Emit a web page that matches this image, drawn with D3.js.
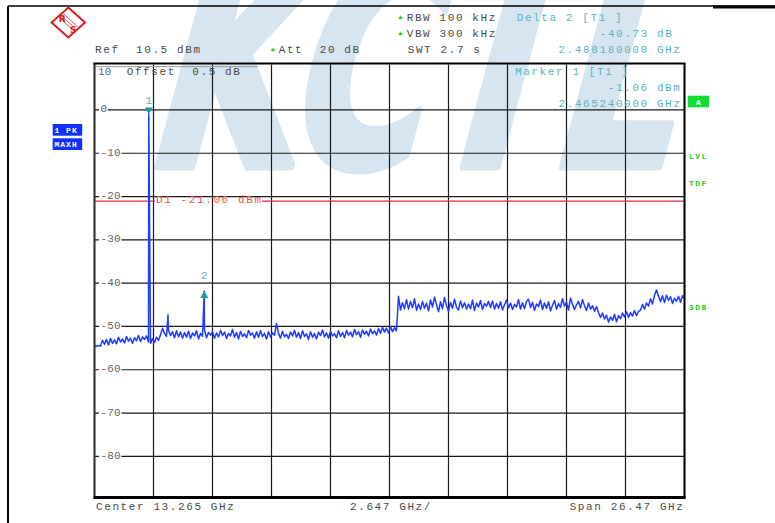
<!DOCTYPE html>
<html>
<head>
<meta charset="utf-8">
<script src="https://cdn.jsdelivr.net/npm/d3@7"></script>
<style>
html,body{margin:0;padding:0;background:#fff;}
svg{display:block;}
text{white-space:pre;}
</style>
</head>
<body>
<svg id="chart" width="775" height="523"></svg>
<script>
// ---------------- data ----------------
const freqStartGHz = 0.03;
const freqStopGHz = 26.5;
const refLevel = 10.5;
const bottomLevel = -89.5;
const yTickValues = [0, -10, -20, -30, -40, -50, -60, -70, -80];
const yTickLabels = ["0", "-10", "-20", "-30", "-40", "-50", "-60", "-70", "-80"];
const xDivisions = [0, 1, 2, 3, 4, 5, 6, 7, 8, 9, 10];
const displayLine = -21.06;

// trace levels (dBm), equally spaced from start to stop frequency
const traceLevels = [
  -54.3, -54.6, -54.4, -54.5, -53.2, -54.1, -53.0, -54.3, -52.8, -53.9,
  -53.1, -54.0, -52.5, -53.6, -52.9, -53.8, -52.3, -53.4, -52.7, -53.9,
  -52.6, -53.3, -52.1, -53.5, -52.4, -53.0, -52.2,
  -53.6, -53.9, -52.8, -53.7, -52.5, -53.2, -51.9,
  -50.4, -51.6, -52.3, -50.9, -52.1, -51.2, -52.6, -51.0, -52.4, -51.3, -52.7, -51.4,
  -52.5, -51.1, -52.8, -51.5, -52.2, -51.0, -52.9, -51.6, -52.3, -50.8, -52.6, -51.4, -52.0, -51.2, -52.7, -51.5,
  -52.4, -50.9, -52.1, -51.3, -52.8, -51.6, -52.2, -50.7, -52.5, -51.4, -52.9, -51.1, -52.3, -51.7, -52.6, -50.9, -52.0, -51.5, -52.7, -51.2,
  -52.5, -51.0, -52.3, -51.6, -52.9, -51.2, -52.4, -51.5, -52.0, -49.3, -51.6, -52.7, -51.1, -52.4, -51.8, -52.8, -51.3, -52.2, -50.9, -52.5,
  -51.4, -52.8, -51.0, -52.3, -51.7, -53.0, -51.2, -52.5, -51.6, -52.9, -51.3, -52.1, -50.8, -52.4, -51.5, -52.7, -51.1, -52.2, -51.7, -52.6,
  -51.0, -52.3, -51.4, -52.6, -50.9, -52.0, -51.3, -52.4, -50.7, -51.9, -51.2, -52.5, -50.8, -51.8, -51.1, -52.2, -50.6, -51.7, -51.0, -52.0,
  -50.5, -51.6, -50.2, -51.3, -50.4, -51.5, -50.1, -51.2, -50.3, -51.0,
  -43.0, -46.2, -44.5, -45.9, -43.8, -46.0, -44.2, -45.7, -43.6, -46.3, -44.8,
  -46.1, -44.2, -45.8, -44.6, -46.4, -43.9, -45.5, -43.2, -45.0, -46.6,
  -44.3, -45.9, -43.3, -45.2, -46.5, -44.4, -45.8, -43.7, -45.6, -46.2,
  -44.1, -45.7, -44.5, -46.0, -44.8, -45.9, -43.9, -46.3, -44.6, -45.5,
  -44.0, -46.1, -44.7, -45.3, -44.2,
  -45.6, -44.1, -46.0, -44.7, -45.8, -44.3, -46.2, -45.0, -43.9, -45.7,
  -44.6, -46.1, -44.9, -45.5, -43.8, -46.0, -44.5, -45.9, -44.2, -43.7,
  -45.6, -44.4, -46.3, -44.8, -45.4, -43.9, -46.1, -44.6, -45.8, -44.3,
  -46.4, -45.1, -44.0, -46.0, -44.7, -45.6, -43.6, -45.3, -44.4, -46.2,
  -43.4, -44.9, -46.1, -45.0, -44.2, -45.7, -43.8, -45.2, -46.3, -44.6,
  -46.0, -45.2, -46.5, -45.4,
  -46.8, -47.9, -46.9, -48.3, -47.4, -49.0, -47.8, -48.6, -47.2, -48.9,
  -47.5, -48.2, -46.9, -47.8, -46.6, -47.9, -46.8, -47.6, -46.3, -47.5, -46.5,
  -46.2, -44.9, -46.0, -44.6, -45.3, -43.6, -44.8, -42.8, -41.6, -43.0,
  -44.3, -42.9, -44.5, -42.8, -44.0, -43.1, -44.7, -43.5, -44.2, -43.0,
  -44.4, -42.9, -43.6
];
// narrow spurs in the trace: [GHz, dBm]
const spurs = [[2.46524, -1.06], [3.327, -47.3], [4.95342, -41.79]];
// markers: [label, GHz, dBm, direction]
const markers = [["1", 2.46524, -1.06, "down"], ["2", 4.95342, -41.79, "up"]];

// ---------------- drawing ----------------
const svg = d3.select("#chart");
const L = 94.5, R = 684.5, T = 64.5, B = 497.5;
const x = d3.scaleLinear().domain([freqStartGHz, freqStopGHz]).range([L, R]);
const y = d3.scaleLinear().domain([bottomLevel, refLevel]).range([B, T]);
const xDiv = d3.scaleLinear().domain([0, 10]).range([L, R]);
const idxToFreq = d3.scaleLinear().domain([0, traceLevels.length - 1]).range([freqStartGHz, freqStopGHz]);

const mono = "'Liberation Mono','DejaVu Sans Mono',monospace";
const grayTxt = "#4a4a4a";
const teal = "#5ab4bc";

// watermark
svg.append("text")
  .attr("transform", "translate(140,166) skewX(-15)")
  .attr("font-family", "'DejaVu Sans',sans-serif")
  .attr("font-weight", "bold")
  .attr("font-size", 290)
  .attr("textLength", 525)
  .attr("lengthAdjust", "spacingAndGlyphs")
  .attr("fill", "#d7e5f1")
  .attr("stroke", "#d7e5f1")
  .attr("stroke-width", 9)
  .attr("stroke-linejoin", "round")
  .text("KCTL");

// outer frame
svg.append("line").attr("x1", 8).attr("x2", 8).attr("y1", 6).attr("y2", 523).attr("stroke", "#000").attr("stroke-width", 2);
svg.append("line").attr("x1", 8).attr("x2", 775).attr("y1", 6).attr("y2", 6).attr("stroke", "#000").attr("stroke-width", 1.5);
svg.append("line").attr("x1", 713).attr("x2", 775).attr("y1", 7).attr("y2", 7).attr("stroke", "#000").attr("stroke-width", 3);

// R&S logo
const logo = svg.append("g").attr("transform", "translate(68.3,22.5)");
logo.append("path").attr("d", "M0,-15 L16.7,0 L0,15 L-16.7,0 Z").attr("fill", "#fff").attr("stroke", "#d42020").attr("stroke-width", 2);
logo.append("path").attr("d", "M-9,-5 L5,8 M-7,-7 L7,6 M-5,-9 L9,4").attr("stroke", "#d42020").attr("stroke-width", 0.8).attr("fill", "none");
logo.append("text").attr("x", -6).attr("y", -1).attr("font-family", "'DejaVu Sans',sans-serif").attr("font-weight", "bold").attr("font-size", 9).attr("fill", "#d42020").attr("text-anchor", "middle").text("R");
logo.append("text").attr("x", 5).attr("y", 10).attr("font-family", "'DejaVu Sans',sans-serif").attr("font-weight", "bold").attr("font-size", 9).attr("fill", "#d42020").attr("text-anchor", "middle").text("S");

function txt(xp, yp, s, color, anchor, size, ls) {
  return svg.append("text").attr("x", xp).attr("y", yp)
    .attr("font-family", mono).attr("font-size", size || 11)
    .attr("letter-spacing", ls === undefined ? 1.6 : ls)
    .attr("fill", color).attr("text-anchor", anchor || "start").text(s);
}
function star(xp, yp) {
  svg.append("text").attr("x", xp).attr("y", yp).attr("font-family", "'DejaVu Sans',sans-serif")
    .attr("font-size", 7).attr("fill", "#22cc22").attr("text-anchor", "middle").text("★");
}

// header
txt(95, 53, "Ref  10.5 dBm", grayTxt);
star(273, 52); txt(278.7, 53, "Att  20 dB", grayTxt);
star(400.5, 20); txt(406.7, 21, "RBW 100 kHz", grayTxt);
star(400.5, 36); txt(406.7, 37, "VBW 300 kHz", grayTxt);
txt(407.7, 53, "SWT 2.7 s", grayTxt);
txt(516.7, 21, "Delta 2 [T1 ]", teal);
txt(673.5, 37, "-40.73 dB", teal, "end");
txt(681.5, 53, "2.488180000 GHz", teal, "end");

// grid
const grid = svg.append("g");
grid.selectAll("line.h").data(yTickValues).join("line")
  .attr("x1", L).attr("x2", R).attr("y1", d => y(d)).attr("y2", d => y(d))
  .attr("stroke", "#1a1a1a").attr("stroke-width", 1.2);
grid.selectAll("line.v").data(xDivisions).join("line")
  .attr("x1", d => xDiv(d)).attr("x2", d => xDiv(d)).attr("y1", T).attr("y2", B)
  .attr("stroke", "#1a1a1a").attr("stroke-width", 1.2);
svg.append("line").attr("x1", L).attr("x2", 258).attr("y1", y(10)).attr("y2", y(10)).attr("stroke", "#999").attr("stroke-width", 1);

// y labels with white backing
yTickValues.forEach((v, i) => {
  const lab = yTickLabels[i];
  const w = lab.length * 6.8 + 2;
  svg.append("rect").attr("x", 99).attr("y", y(v) - 6).attr("width", w).attr("height", 9).attr("fill", "#fff");
  txt(100.5, y(v) + 2.5, lab, "#666", "start", 11, 0.2);
});
txt(98, 74.5, "10", "#666", "start", 11, 0.2);
txt(126.7, 74.5, "Offset  0.5 dB", grayTxt);

// display line D1
svg.append("line").attr("x1", L).attr("x2", 155).attr("y1", y(displayLine)).attr("y2", y(displayLine)).attr("stroke", "#e03030").attr("stroke-width", 1.2);
svg.append("line").attr("x1", 262).attr("x2", R).attr("y1", y(displayLine)).attr("y2", y(displayLine)).attr("stroke", "#e03030").attr("stroke-width", 1.2);
txt(156, y(displayLine) + 1.5, "D1 -21.06 dBm", "#f05050");

// marker info
txt(515, 75, "Marker 1 [T1 ]", teal);
txt(681.5, 91, "-1.06 dBm", teal, "end");
txt(681.5, 106.5, "2.465240000 GHz", teal, "end");

// trace
const pts = traceLevels.map((v, i) => [idxToFreq(i), v]).concat(spurs).sort((a, b) => a[0] - b[0]);
svg.append("clipPath").attr("id", "clip").append("rect").attr("x", L).attr("y", T).attr("width", R - L).attr("height", B - T);
svg.append("path").datum(pts)
  .attr("clip-path", "url(#clip)")
  .attr("d", d3.line().x(d => x(d[0])).y(d => y(d[1])))
  .attr("fill", "none").attr("stroke", "#1f3cff").attr("stroke-width", 1.5).attr("stroke-linejoin", "round");

// markers
markers.forEach(m => {
  const mx = x(m[1]), my = y(m[2]);
  if (m[3] === "down") {
    svg.append("path").attr("d", `M${mx - 4},${my - 7} L${mx + 4},${my - 7} L${mx},${my} Z`).attr("fill", "#1a9a9a");
    txt(mx, my - 11, m[0], teal, "middle", 11, 0);
  } else {
    svg.append("path").attr("d", `M${mx - 4},${my + 7} L${mx + 4},${my + 7} L${mx},${my} Z`).attr("fill", "#1a9a9a");
    txt(mx, my - 12, m[0], teal, "middle", 11, 0);
  }
});

// frame
svg.append("line").attr("x1", L).attr("x2", L).attr("y1", T - 1).attr("y2", B).attr("stroke", "#333").attr("stroke-width", 2);
svg.append("line").attr("x1", R).attr("x2", R).attr("y1", T - 1).attr("y2", B + 1).attr("stroke", "#000").attr("stroke-width", 2);
svg.append("line").attr("x1", L - 1).attr("x2", R + 1).attr("y1", T - 1).attr("y2", T - 1).attr("stroke", "#000").attr("stroke-width", 2);
svg.append("line").attr("x1", L - 1).attr("x2", R + 1).attr("y1", B).attr("y2", B).attr("stroke", "#000").attr("stroke-width", 3);

// left status boxes
[["1 PK", 124], ["MAXH", 138.3]].forEach(b => {
  svg.append("rect").attr("x", 52.7).attr("y", b[1]).attr("width", 29.5).attr("height", 11.7).attr("fill", "#1030ff");
  svg.append("text").attr("x", 54.5).attr("y", b[1] + 8.8).attr("font-family", mono).attr("font-weight", "bold")
    .attr("font-size", 8).attr("letter-spacing", 1).attr("fill", "#fff").text(b[0]);
});

// right labels
svg.append("rect").attr("x", 687.7).attr("y", 95.7).attr("width", 21.3).attr("height", 11.6).attr("fill", "#11dd33");
svg.append("text").attr("x", 698.3).attr("y", 104.5).attr("font-family", mono).attr("font-weight", "bold")
  .attr("font-size", 8).attr("fill", "#fff").attr("text-anchor", "middle").text("A");
[["LVL", 158.5], ["TDF", 186], ["3DB", 309.5]].forEach(r => {
  svg.append("text").attr("x", 689).attr("y", r[1]).attr("font-family", mono).attr("font-weight", "bold")
    .attr("font-size", 8).attr("letter-spacing", 1.5).attr("fill", "#22cc22").text(r[0]);
});

// footer
txt(96, 510, "Center 13.265 GHz", grayTxt);
txt(350, 510, "2.647 GHz/", grayTxt);
txt(684.5, 510, "Span 26.47 GHz", grayTxt, "end");
</script>
</body>
</html>
